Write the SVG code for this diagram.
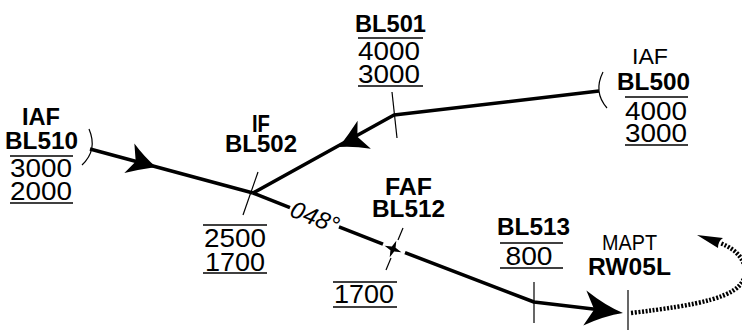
<svg xmlns="http://www.w3.org/2000/svg" width="742" height="333" viewBox="0 0 742 333">
<style>
text{font-family:"Liberation Sans",Arial,sans-serif;fill:#000;text-anchor:middle}
.b{font-weight:bold;font-size:23px}
.n{font-size:25px}
.r{font-size:22px}
.it{font-style:italic;font-size:24px}
.trk{fill:none;stroke:#000;stroke-width:3.5;stroke-linejoin:round}
.thin{fill:none;stroke:#000;stroke-width:1.2}
.ul{stroke:#000;stroke-width:1.4}
.ma{fill:none;stroke:#000;stroke-width:4.5;stroke-dasharray:2 1.6}
</style>
<defs>
<path id="dart" d="M0,0 Q-13,-6 -27,-17 L-21,0 L-29,14 Q-14,6 0,0 Z" fill="#000"/>
<path id="dartL" d="M0,0 Q-18,-5 -39,-18 L-29,0 L-38,17 Q-18,5 0,0 Z" fill="#000"/>
</defs>
<g id="connectors">
<path class="trk" d="M90,149 L253,193"/>
<path class="trk" d="M599,91 L394,115 L253,193"/>
<path class="trk" d="M253,193 L290,207.6"/>
<path class="trk" d="M339,226.9 L383,244.2"/>
<path class="trk" d="M405,252.6 L534,302 L610,311"/>
<path class="ma" d="M631,313 C700,305 738,297 744,278 C748,262 738,250 720,243"/>
<use href="#dart" transform="translate(156,167) rotate(15.1)"/>
<use href="#dart" transform="translate(339,147) rotate(151)"/>
<use href="#dartL" transform="translate(623,313) rotate(6.75)"/>
<path d="M697,235 L723,238 Q718,241 718,248 Z" fill="#000"/>
<text class="it" transform="translate(315,217) rotate(21.5)" x="0" y="8.5" textLength="50" lengthAdjust="spacingAndGlyphs">048°</text>
</g>
<g id="BL510">
<path class="thin" d="M89,129 Q98,150 82,165"/>
<text class="b" x="41" y="125" textLength="38" lengthAdjust="spacingAndGlyphs">IAF</text>
<text class="b" x="41.5" y="149" textLength="73" lengthAdjust="spacingAndGlyphs">BL510</text>
<line class="ul" x1="10" y1="156" x2="73" y2="156"/>
<text class="n" x="41" y="177" textLength="62" lengthAdjust="spacingAndGlyphs">3000</text>
<text class="n" x="41" y="200" textLength="62" lengthAdjust="spacingAndGlyphs">2000</text>
<line class="ul" x1="10" y1="203" x2="73" y2="203"/>
</g>
<g id="BL502">
<line class="thin" x1="258" y1="172" x2="243" y2="215"/>
<text class="b" x="261" y="132" textLength="18" lengthAdjust="spacingAndGlyphs">IF</text>
<text class="b" x="261" y="152" textLength="72" lengthAdjust="spacingAndGlyphs">BL502</text>
<line class="ul" x1="203" y1="225" x2="267" y2="225"/>
<text class="n" x="235" y="247" textLength="62" lengthAdjust="spacingAndGlyphs">2500</text>
<text class="n" x="235" y="271" textLength="60" lengthAdjust="spacingAndGlyphs">1700</text>
<line class="ul" x1="203" y1="273" x2="267" y2="273"/>
</g>
<g id="BL501">
<line class="thin" x1="392" y1="92" x2="397" y2="138"/>
<text class="b" x="390.5" y="32" textLength="71" lengthAdjust="spacingAndGlyphs">BL501</text>
<line class="ul" x1="358" y1="38" x2="423" y2="38"/>
<text class="n" x="389" y="60" textLength="62" lengthAdjust="spacingAndGlyphs">4000</text>
<text class="n" x="389" y="83" textLength="62" lengthAdjust="spacingAndGlyphs">3000</text>
<line class="ul" x1="358" y1="86" x2="423" y2="86"/>
</g>
<g id="BL500">
<path class="thin" d="M603,72 Q593,92 607,108"/>
<text class="r" x="650" y="64" textLength="36" lengthAdjust="spacingAndGlyphs">IAF</text>
<text class="b" x="653.5" y="90" textLength="73" lengthAdjust="spacingAndGlyphs">BL500</text>
<line class="ul" x1="625" y1="97" x2="688" y2="97"/>
<text class="n" x="656" y="120" textLength="62" lengthAdjust="spacingAndGlyphs">4000</text>
<text class="n" x="656" y="142" textLength="62" lengthAdjust="spacingAndGlyphs">3000</text>
<line class="ul" x1="625" y1="145" x2="688" y2="145"/>
</g>
<g id="BL512">
<line class="thin" x1="403" y1="228" x2="398" y2="240"/>
<line class="thin" x1="391" y1="258" x2="386" y2="270"/>
<path transform="translate(393,249) rotate(21.5)" d="M-9,0 L-2,-2 L0,-9 L2,-2 L9,0 L2,2 L0,9 L-2,2 Z" fill="#000"/>
<text class="b" x="408.5" y="195" textLength="47" lengthAdjust="spacingAndGlyphs">FAF</text>
<text class="b" x="408.5" y="217" textLength="73" lengthAdjust="spacingAndGlyphs">BL512</text>
<line class="ul" x1="333" y1="282" x2="397" y2="282"/>
<text class="n" x="364" y="303" textLength="60" lengthAdjust="spacingAndGlyphs">1700</text>
<line class="ul" x1="333" y1="307" x2="397" y2="307"/>
</g>
<g id="BL513">
<line class="thin" x1="534" y1="282" x2="534" y2="323"/>
<text class="b" x="533.5" y="235" textLength="73" lengthAdjust="spacingAndGlyphs">BL513</text>
<line class="ul" x1="500" y1="243" x2="563" y2="243"/>
<text class="n" x="529" y="265" textLength="47" lengthAdjust="spacingAndGlyphs">800</text>
<line class="ul" x1="500" y1="268" x2="563" y2="268"/>
</g>
<g id="RW05L">
<line class="thin" x1="628" y1="290" x2="628" y2="330"/>
<text class="r" x="629.5" y="250" textLength="55" lengthAdjust="spacingAndGlyphs">MAPT</text>
<text class="b" x="629.5" y="275" textLength="83" lengthAdjust="spacingAndGlyphs">RW05L</text>
</g>
</svg>
